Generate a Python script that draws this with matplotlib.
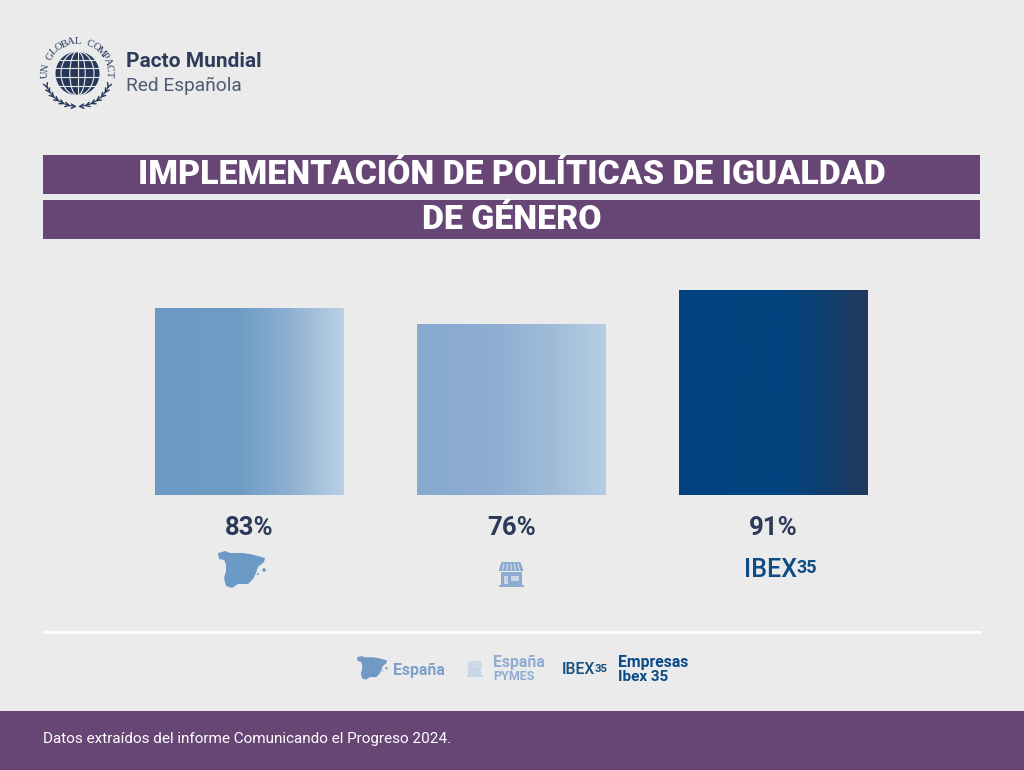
import numpy as np
import matplotlib
matplotlib.use('Agg')
import matplotlib.pyplot as plt
from matplotlib.colors import LinearSegmentedColormap
from matplotlib.patches import Rectangle, Circle, Polygon, Ellipse

categorias = ["España", "España PYMES", "Empresas Ibex 35"]
valores = [83, 76, 91]
etiquetas = ["83%", "76%", "91%"]
titulo = ["IMPLEMENTACIÓN DE POLÍTICAS DE IGUALDAD", "DE GÉNERO"]
nota = "Datos extraídos del informe Comunicando el Progreso 2024."

FONDO = '#ebebeb'
MORADO = '#674575'
OSCURO = '#2b3a58'
gradientes = [
    [(0, '#6c9ac4'), (0.45, '#6f9cc5'), (0.7, '#8bafd1'), (0.88, '#a8c3de'), (1, '#b9d0e5')],
    [(0, '#88a9cf'), (0.4, '#8dadd1'), (0.72, '#a0bcd9'), (1, '#b6cee4')],
    [(0, '#00437f'), (0.55, '#03457f'), (0.78, '#103f70'), (1, '#21395c')],
]

SPAIN = [(0, 2), (4, 1), (7, 0), (12, 2), (18, 2), (25, 2), (32, 3), (40, 5), (47, 7), (46, 11),
         (40, 16), (38, 22), (35, 28), (30, 33), (20, 33), (14, 37),
         (8, 35), (6, 27), (8, 20), (8, 13), (6, 9), (1, 8)]

fig = plt.figure(figsize=(10.24, 7.7), dpi=100, facecolor=FONDO)
plt.rcParams['font.family'] = ['Roboto', 'DejaVu Sans']

# capa de fondo en pixeles
bg = fig.add_axes([0, 0, 1, 1])
bg.set_xlim(0, 1024)
bg.set_ylim(770, 0)
bg.axis('off')


def spain(x, y, esc, color):
    bg.add_patch(Polygon([(x + a * esc, y + b * esc) for a, b in SPAIN], closed=True, fc=color, ec='none'))
    bg.add_patch(Circle((x + 46 * esc, y + 19 * esc), 1.8 * esc, fc=color, ec='none'))
    bg.add_patch(Circle((x + 40 * esc, y + 23 * esc), 1.0 * esc, fc=color, ec='none'))


def tienda(x, y, esc, color):
    bg.add_patch(Polygon([(x + 3 * esc, y), (x + 22 * esc, y), (x + 25 * esc, y + 9 * esc), (x, y + 9 * esc)], fc=color, ec='none'))
    for k in range(1, 6):
        bg.plot([x + (2 + k * 3.5) * esc, x + (k * 4.2) * esc], [y + 2 * esc, y + 8 * esc], color=FONDO, lw=0.6 * esc)
    bg.add_patch(Rectangle((x + 2 * esc, y + 10 * esc), 21 * esc, 13 * esc, fc=color, ec='none'))
    bg.add_patch(Rectangle((x + 5 * esc, y + 14 * esc), 4 * esc, 8 * esc, fc='#c9d7e8', ec='none'))
    bg.add_patch(Rectangle((x + 12 * esc, y + 14 * esc), 8 * esc, 5 * esc, fc='#c9d7e8', ec='none'))
    bg.add_patch(Rectangle((x, y + 23 * esc), 25 * esc, 2 * esc, fc=color, ec='none'))


def ibex(x, y, size, color):
    t = bg.text(x, y, "IBEX", fontsize=size, color=color, fontweight='medium', va='center', ha='left')
    fig.canvas.draw()
    bb = t.get_window_extent().transformed(bg.transData.inverted())
    bg.text(bb.x1 - size * 0.05, y - size * 0.09, "35", fontsize=size * 0.72, color=color, fontweight='bold', va='center', ha='left')


# logo
cx, cy, r = 77.5, 73.5, 22
AZUL = '#26375a'
bg.add_patch(Circle((cx, cy), r, fc=AZUL, ec='none'))
for dx in [0.35, 0.75]:
    bg.add_patch(Ellipse((cx, cy), 2 * r * dx, 2 * r, fc='none', ec=FONDO, lw=0.8))
bg.plot([cx, cx], [cy - r, cy + r], color=FONDO, lw=0.8)
for dy in [-0.62, -0.25, 0.15, 0.55]:
    w = r * np.sqrt(1 - dy ** 2)
    bg.plot([cx - w, cx + w], [cy + dy * r, cy + dy * r], color=FONDO, lw=0.8)
anillo = "UN GLOBAL COMPACT"
angs = np.linspace(-92, 92, len(anillo))
for ch, a in zip(anillo, angs):
    rad = np.deg2rad(a)
    bg.text(cx + 32 * np.sin(rad), cy - 32 * np.cos(rad), ch, fontsize=7.5, family=['Liberation Serif'],
            color=AZUL, rotation=-a, rotation_mode='anchor', ha='center', va='center')
for lado in [-1, 1]:
    ths = np.deg2rad(np.linspace(4, 68, 7))
    xs = cx + lado * 33 * np.sin(ths)
    ys = cy + 2 + 31 * np.cos(ths)
    bg.plot(xs, ys, color=AZUL, lw=0.8)
    for xx, yy, th in zip(xs, ys, ths):
        for off in [-0.5, 0.5]:
            tx = lado * np.cos(th + lado * off)
            ty = -np.sin(th + lado * off)
            bg.plot([xx, xx + 4.5 * tx], [yy, yy + 4.5 * ty], color=AZUL, lw=1.0, solid_capstyle='round')
bg.text(126, 61.5, "Pacto Mundial", fontsize=15, fontweight='bold', color='#2e3c5a', va='center', ha='left')
bg.text(126, 86, "Red Española", fontsize=13.8, color='#4d5b73', va='center', ha='left')

# titulo
for (y0, y1), linea in zip([(155, 194), (200, 239)], titulo):
    bg.add_patch(Rectangle((43, y0), 937, y1 - y0, fc=MORADO, ec='none'))
    bg.text(512, (y0 + y1) / 2 + 0.5, linea, fontsize=24.4, fontweight=900, color='white', ha='center', va='center')

# barras
ax = fig.add_axes([118.5 / 1024, (770 - 495) / 770, 786 / 1024, 225 / 770])
ax.patch.set_alpha(0)
ax.set_xlim(-0.5, 2.5)
ax.set_ylim(0, 100)
ax.axis('off')
barras = ax.bar(range(len(valores)), valores, width=189 / 262, color='none')
for barra, grad in zip(barras, gradientes):
    cmap = LinearSegmentedColormap.from_list('g', grad)
    ax.imshow(np.linspace(0, 1, 256).reshape(1, -1), cmap=cmap, aspect='auto', zorder=2,
              extent=[barra.get_x(), barra.get_x() + barra.get_width(), 0, barra.get_height()])
ax.set_xlim(-0.5, 2.5)
ax.set_ylim(0, 100)

for i, et in enumerate(etiquetas):
    ax.annotate(et, (i, 0), xytext=(0, -33), textcoords='offset pixels', ha='center', va='center',
                fontsize=18.5, fontweight='bold', color=OSCURO)

# iconos bajo las barras
spain(218, 551, 1, '#6c9ac6')
tienda(498.5, 562, 1, '#8dabd1')
ibex(744, 570, 18, '#0f4c85')

# linea separadora
bg.plot([43, 981], [632, 632], color='white', lw=2, solid_capstyle='butt')

# leyenda
spain(357, 656, 0.64, '#7199c5')
bg.text(393, 670.5, "España", fontsize=11.4, fontweight='bold', color='#7f9fc8', va='center')
tienda(467, 661, 0.62, '#c5d6e8')
bg.text(493, 662, "España", fontsize=11.4, fontweight='bold', color='#8fadd2', va='center')
bg.text(493, 677, "PYMES", fontsize=9, fontweight='bold', color='#8fadd2', va='center')
ibex(562, 670, 11.3, '#15507f')
bg.text(618, 662, "Empresas", fontsize=11.3, fontweight='bold', color='#0b4a88', va='center')
bg.text(618, 677, "Ibex 35", fontsize=11, fontweight='bold', color='#0b4a88', va='center')

# pie
bg.add_patch(Rectangle((0, 711), 1024, 59, fc=MORADO, ec='none'))
bg.text(43, 738.5, nota, fontsize=11, color='white', va='center', ha='left')

fig.savefig('out.png', dpi=100, facecolor=FONDO)
